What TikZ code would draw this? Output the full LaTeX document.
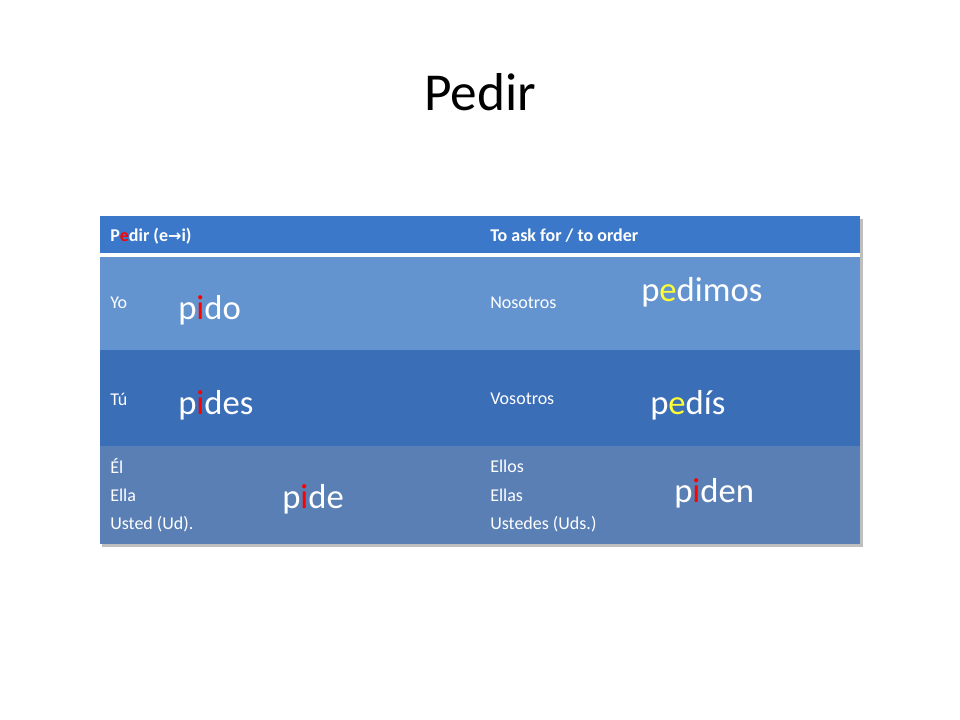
\documentclass[tikz,border=0pt]{standalone}
\usepackage{fontspec}
\setmainfont{Carlito}
\newfontfamily\dejavu{DejaVu Sans}
\definecolor{hdr}{HTML}{3B78C9}
\definecolor{rowa}{HTML}{6494D0}
\definecolor{rowb}{HTML}{3A6EB7}
\definecolor{rowc}{HTML}{5A7FB5}
\definecolor{yel}{HTML}{FFFF33}
\begin{document}
\begin{tikzpicture}[x=0.75pt,y=-0.75pt,
  sm/.style={text=white,font=\fontsize{13.5}{16}\selectfont,anchor=west,inner sep=0pt},
  smb/.style={sm,font=\fontsize{13.5}{16}\selectfont\bfseries},
  big/.style={text=white,font=\fontsize{26}{30}\selectfont,anchor=west,inner sep=0pt}]
\useasboundingbox (0,0) rectangle (960,720);
\fill[white] (0,0) rectangle (960,720);
\node (title) at (480,92) {\fontsize{40}{46}\selectfont Pedir};
\fill[black!25] (102,219) rectangle (863,547);
\fill[hdr] (100,216) rectangle (860,253);
\fill[white] (100,253) rectangle (860,257);
\fill[rowa] (100,257) rectangle (860,350);
\fill[rowb] (100,350) rectangle (860,446);
\fill[rowc] (100,446) rectangle (860,544);
\node[smb] (h1) at (110,236) {P\textcolor{red}{e}dir (e{\dejavu\fontsize{12}{14}\selectfont→}i)};
\node[smb] (h2) at (490,236) {To ask for / to order};
\node[sm] (yo) at (110,303) {Yo};
\node[big] (pido) at (178,310) {p\textcolor{red}{i}do};
\node[sm] (nos) at (490,303) {Nosotros};
\node[big] (pedimos) at (641,292) {p\textcolor{yel}{e}dimos};
\node[sm] (tu) at (110,399) {Tú};
\node[big] (pides) at (178,405) {p\textcolor{red}{i}des};
\node[sm] (vos) at (490,399) {Vosotros};
\node[big] (pedis) at (650,405) {p\textcolor{yel}{e}dís};
\node[sm] (el) at (110,466) {Él};
\node[sm] (ella) at (110,495) {Ella};
\node[sm] (ud) at (110,524) {Usted (Ud).};
\node[big] (pide) at (282,499) {p\textcolor{red}{i}de};
\node[sm] (ellos) at (490,466) {Ellos};
\node[sm] (ellas) at (490,495) {Ellas};
\node[sm] (uds) at (490,524) {Ustedes (Uds.)};
\node[big] (piden) at (674,493) {p\textcolor{red}{i}den};
\end{tikzpicture}
\end{document}
